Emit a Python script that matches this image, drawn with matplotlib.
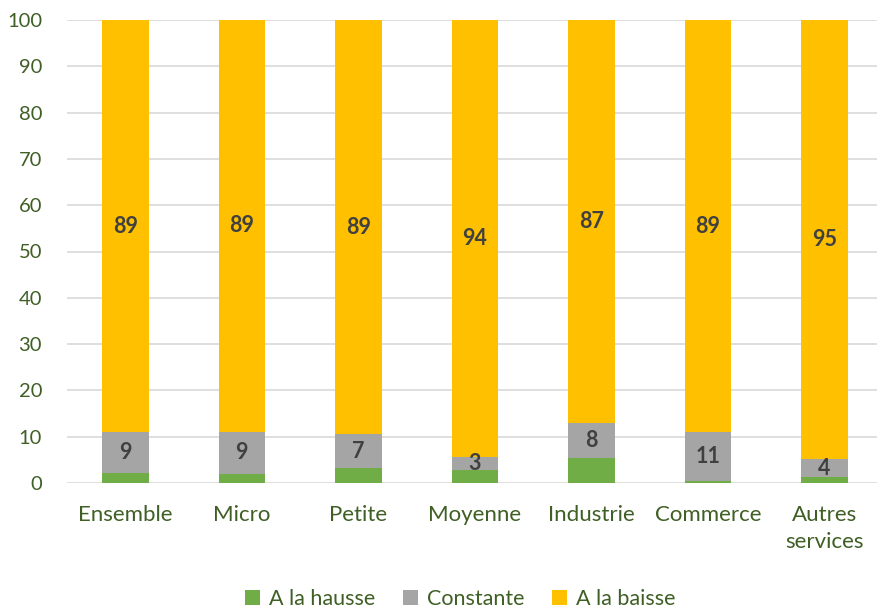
import numpy as np
import matplotlib.pyplot as plt

plt.rcParams['font.family'] = ['Lato', 'DejaVu Sans']

# -------------------------------------------------------
# data (share in %)
# -------------------------------------------------------
categories = ["Ensemble", "Micro", "Petite", "Moyenne", "Industrie", "Commerce", "Autres\nservices"]
hausse = [2.2, 2.0, 3.3, 2.7, 5.4, 0.4, 1.2]
constante = [8.8, 9.1, 7.2, 3.0, 7.6, 10.6, 4.0]
baisse = [89.0, 88.9, 89.4, 94.3, 87.0, 89.0, 94.8]

green = "#70AD47"
grey = "#A5A5A5"
yellow = "#FFC000"
txt = "#3F5F25"

fig = plt.figure(figsize=(8.77, 6.08), dpi=100)
ax = fig.add_axes([67 / 877, 1 - 483 / 608, 1 - 67 / 877, 463 / 608])

x = np.arange(len(categories))
w = 0.40
b1 = ax.bar(x, hausse, w, color=green, label="A la hausse", zorder=3)
b2 = ax.bar(x, constante, w, bottom=hausse, color=grey, label="Constante", zorder=3)
bottom2 = np.array(hausse) + np.array(constante)
b3 = ax.bar(x, baisse, w, bottom=bottom2, color=yellow, label="A la baisse", zorder=3)

# value labels (grey and yellow segments only)
ax.bar_label(b2, labels=[f"{v:.0f}" for v in constante], label_type="center",
             fontsize=15.5, fontweight="bold", color="#404040", zorder=4)
ax.bar_label(b3, labels=[f"{v:.0f}" for v in baisse], label_type="center",
             fontsize=15.5, fontweight="bold", color="#404040", zorder=4)

ax.set_ylim(0, 100)
ax.set_xlim(-0.5, 6.45)
ax.set_yticks(np.arange(0, 101, 10))
ax.set_xticks(x)
ax.set_xticklabels(categories, fontsize=16, linespacing=1.4)
ax.tick_params(axis="both", length=0, colors=txt)
ax.tick_params(axis="y", pad=18, labelsize=14.5)
ax.tick_params(axis="x", pad=16)
ax.grid(axis="y", color="#D9D9D9", linewidth=1.2, zorder=0)
for s in ax.spines.values():
    s.set_visible(False)

leg = fig.legend(handles=[b1, b2, b3], loc="lower center", ncol=3, frameon=False,
                 bbox_to_anchor=(0.525, -0.033), fontsize=15.5, handlelength=0.7,
                 handleheight=0.7, handletextpad=0.4, columnspacing=1.3)
for t in leg.get_texts():
    t.set_color(txt)

fig.savefig("out.png", dpi=100)
